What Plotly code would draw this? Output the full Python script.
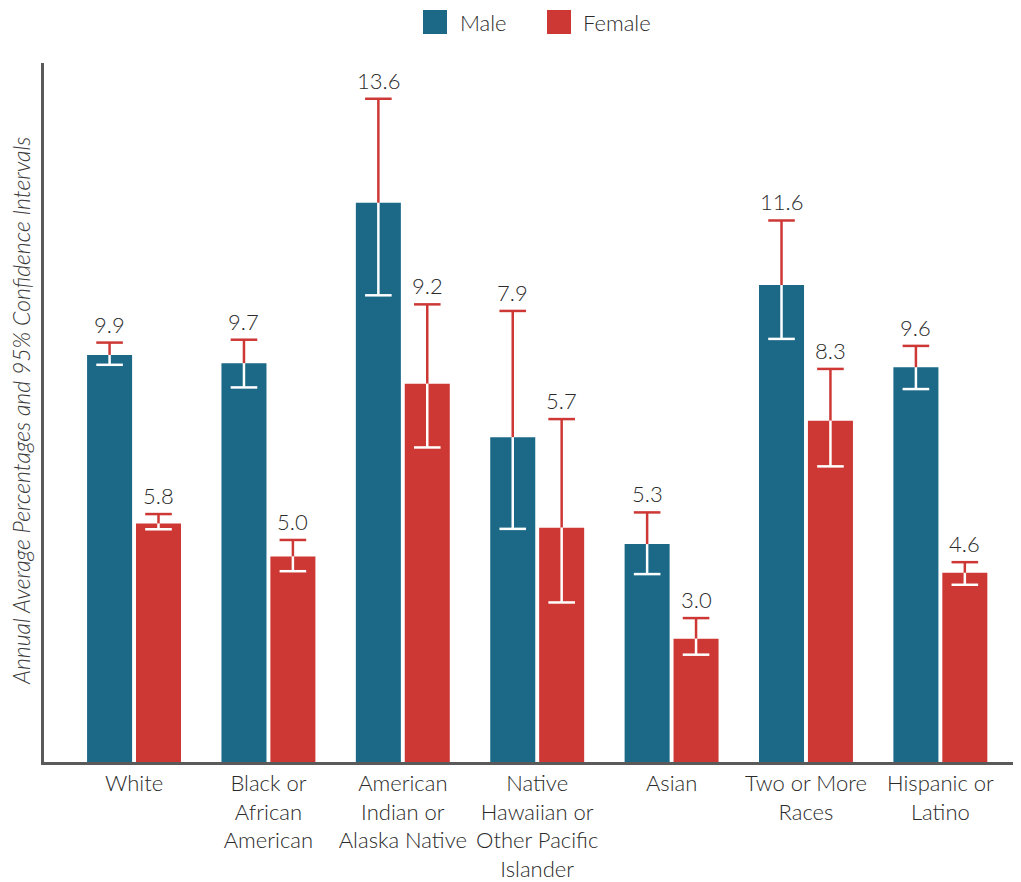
import plotly.graph_objects as go

categories = ["White", "Black or<br>African<br>American", "American<br>Indian or<br>Alaska Native",
              "Native<br>Hawaiian or<br>Other Pacific<br>Islander", "Asian", "Two or More<br>Races",
              "Hispanic or<br>Latino"]
male = [9.9, 9.7, 13.6, 7.9, 5.3, 11.6, 9.6]
male_lo = [9.66, 9.11, 11.35, 5.67, 4.57, 10.29, 9.07]
male_hi = [10.20, 10.27, 16.13, 10.97, 6.07, 13.17, 10.12]
female = [5.8, 5.0, 9.2, 5.7, 3.0, 8.3, 4.6]
female_lo = [5.66, 4.64, 7.65, 3.88, 2.61, 7.19, 4.31]
female_hi = [6.03, 5.40, 11.13, 8.34, 3.50, 9.56, 4.86]

MALE_C = "#1b6887"
FEMALE_C = "#cd3835"
FONT = "Lato"
TXT = "#2a2a2a"
WT = 300

# page body has an 8px margin; figure is sized/placed to compensate
OFF = 8
W, H = 1021 - OFF, 882 - OFF
ML, MR, MT, MB = 44 - OFF, 0, 63 - OFF, 120
plot_w = W - ML - MR
plot_h = H - MT - MB

off = 0.182
bw = 0.335
idx = list(range(len(categories)))
xm = [i - off for i in idx]
xf = [i + off for i in idx]

fig = go.Figure()
fig.add_trace(go.Bar(x=xm, y=male, width=bw, marker=dict(color=MALE_C, line=dict(width=0)), name="Male"))
fig.add_trace(go.Bar(x=xf, y=female, width=bw, marker=dict(color=FEMALE_C, line=dict(width=0)), name="Female"))

def add_ci(xs, vals, lo, hi):
    # red upper part: cap at hi, stem down to value
    fig.add_trace(go.Scatter(
        x=xs, y=hi, mode="markers",
        marker=dict(symbol="line-ew", size=19, color=FEMALE_C, line=dict(width=2.5, color=FEMALE_C)),
        error_y=dict(type="data", symmetric=False, array=[0] * len(xs),
                     arrayminus=[h - v for h, v in zip(hi, vals)],
                     color=FEMALE_C, thickness=2.5, width=0),
        hoverinfo="skip"))
    # white lower part: stem from value down to lo, cap at lo
    fig.add_trace(go.Scatter(
        x=xs, y=lo, mode="markers",
        marker=dict(symbol="line-ew", size=19, color="white", line=dict(width=2.5, color="white")),
        error_y=dict(type="data", symmetric=False, array=[v - l for v, l in zip(vals, lo)],
                     arrayminus=[0] * len(xs),
                     color="white", thickness=2.5, width=0),
        hoverinfo="skip"))

add_ci(xm, male, male_lo, male_hi)
add_ci(xf, female, female_lo, female_hi)

def px_x(p):
    return (p - OFF - ML) / plot_w

def px_y(p):
    return (H - MB - (p - OFF)) / plot_h

annotations = []
for xs, vals, hi in ((xm, male, male_hi), (xf, female, female_hi)):
    for x, v, h in zip(xs, vals, hi):
        annotations.append(dict(x=x, y=h, xref="x", yref="y", text=f"{v:.1f}", showarrow=False,
                                yanchor="bottom", yshift=3,
                                font=dict(family=FONT, size=22, color=TXT, weight=WT)))

# y-axis title
annotations.append(dict(x=px_x(21), y=px_y(411), xref="paper", yref="paper",
                        text="<i>Annual Average Percentages and 95% Confidence Intervals</i>",
                        textangle=-90, showarrow=False, xanchor="center", yanchor="middle",
                        font=dict(family=FONT, size=23, color="#3a3a3a", weight=WT)))

# legend (drawn manually)
shapes = []
legend_items = [("Male", MALE_C, 423, 458), ("Female", FEMALE_C, 547, 581)]
for name, col, sx, tx in legend_items:
    shapes.append(dict(type="rect", xref="paper", yref="paper", x0=px_x(sx), x1=px_x(sx + 24),
                       y0=px_y(34), y1=px_y(10), fillcolor=col, line=dict(width=0)))
    annotations.append(dict(x=px_x(tx), y=px_y(22), xref="paper", yref="paper", text=name,
                            showarrow=False, xanchor="left", yanchor="middle",
                            font=dict(family=FONT, size=22, color=TXT, weight=WT)))

fig.update_layout(
    width=W, height=H,
    margin=dict(l=ML, r=MR, t=MT, b=MB, pad=0),
    plot_bgcolor="white", paper_bgcolor="white",
    barmode="overlay",
    showlegend=False,
    annotations=annotations,
    shapes=shapes,
    xaxis=dict(range=[-0.67, 6.6], tickmode="array", tickvals=idx, ticktext=categories,
               showgrid=False, zeroline=False, showline=True, linecolor="#5a5a5a", linewidth=2.5,
               ticks="", tickfont=dict(family=FONT, size=22, color=TXT, weight=WT), tickangle=0),
    yaxis=dict(range=[0, 17], showgrid=False, zeroline=False, showline=True, linecolor="#5a5a5a",
               linewidth=2.5, showticklabels=False, ticks=""),
)

fig.write_html("out.html")
